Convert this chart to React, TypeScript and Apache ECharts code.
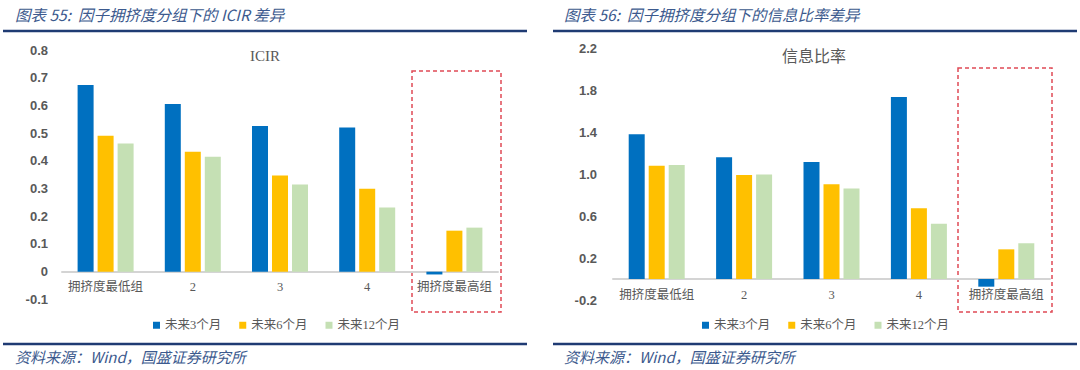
import React, { useEffect, useRef } from "react";
import * as echarts from "echarts";

const categories = ["拥挤度最低组", "2", "3", "4", "拥挤度最高组"];
const seriesNames = ["未来3个月", "未来6个月", "未来12个月"];
const colors = ["#0070C0", "#FFC000", "#C5E0B4"];

const icir3 = [0.674, 0.605, 0.526, 0.52, -0.01];
const icir6 = [0.491, 0.433, 0.347, 0.299, 0.148];
const icir12 = [0.463, 0.415, 0.315, 0.232, 0.159];

const ir3 = [1.38, 1.162, 1.117, 1.735, -0.073];
const ir6 = [1.079, 0.993, 0.904, 0.675, 0.283];
const ir12 = [1.088, 0.996, 0.862, 0.528, 0.341];

const leftHeader = "图表 55:  因子拥挤度分组下的 ICIR 差异";
const rightHeader = "图表 56:  因子拥挤度分组下的信息比率差异";
const sourceText = "资料来源：Wind，国盛证券研究所";
const leftTitle = "ICIR";
const rightTitle = "信息比率";

const SERIF = "'Liberation Serif', 'DejaVu Serif', 'Noto Sans CJK SC', serif";
const SANS = "'Liberation Sans', Arial, sans-serif";
const NAVY = "#1F3B73";
const HEADER_COLOR = "#3C5A8E";

export default function App() {
  const ref = useRef<HTMLDivElement>(null);
  useEffect(() => {
    if (!ref.current) return;
    const chart = echarts.init(ref.current, undefined, { renderer: "svg" });
    const xAxisBase = (gridIndex: number, labelMargin: number) => ({
      type: "category",
      gridIndex,
      data: categories,
      axisLine: { onZero: true, lineStyle: { color: "#D4D4D4", width: 2 } },
      axisTick: { show: false },
      axisLabel: { color: "#595959", fontSize: 12.5, fontFamily: SERIF, margin: labelMargin, interval: 0 },
    });
    const yAxisBase = (gridIndex: number, min: number, max: number, interval: number, margin: number, fmt: (v: number) => string) => ({
      type: "value",
      gridIndex,
      min,
      max,
      interval,
      axisLine: { show: false },
      axisTick: { show: false },
      splitLine: { show: false },
      axisLabel: { color: "#595959", fontSize: 13, fontWeight: "bold", fontFamily: SANS, margin, formatter: fmt },
    });
    const mkSeries = (data: number[], i: number, axisIndex: number) => ({
      type: "bar",
      name: seriesNames[i],
      xAxisIndex: axisIndex,
      yAxisIndex: axisIndex,
      data,
      barWidth: 16,
      barGap: "25%",
      itemStyle: { color: colors[i] },
    });
    const legendBase = (left: number) => ({
      left,
      top: 314,
      data: seriesNames,
      icon: "rect",
      itemWidth: 7,
      itemHeight: 7,
      itemGap: 18,
      textStyle: { color: "#595959", fontSize: 12.5, fontFamily: SERIF },
    });
    const headerText = (x: number, text: string) => ({
      type: "text",
      x,
      y: 14,
      style: { text, fontSize: 15.5, fontStyle: "italic", fontFamily: "'Noto Sans CJK SC', sans-serif", fill: HEADER_COLOR, verticalAlign: "middle" },
    });
    const hline = (x1: number, x2: number, y: number) => ({
      type: "line",
      shape: { x1, y1: y, x2, y2: y },
      style: { stroke: NAVY, lineWidth: 2.5 },
    });
    const sourceLabel = (x: number) => ({
      type: "text",
      x,
      y: 356,
      style: { text: sourceText, fontSize: 15, fontStyle: "italic", fontFamily: "'Noto Sans CJK SC', sans-serif", fill: HEADER_COLOR, verticalAlign: "middle" },
    });
    const dashedBox = (x: number, y: number, w: number, h: number) => ({
      type: "rect",
      shape: { x, y, width: w, height: h },
      style: { fill: "none", stroke: "#E04A55", lineWidth: 1.5, lineDash: [4, 3] },
    });
    const chartTitle = (x: number, text: string, size: number) => ({
      type: "text",
      x,
      y: 56,
      style: { text, fontSize: size, fontFamily: SERIF, fill: "#595959", align: "center", verticalAlign: "middle" },
    });
    chart.setOption({
      animation: false,
      backgroundColor: "#FFFFFF",
      grid: [
        { left: 62, top: 50, width: 436, height: 249.4 },
        { left: 613, top: 48.3, width: 437, height: 251.7 },
      ],
      xAxis: [xAxisBase(0, -18.5), xAxisBase(1, -11.5)],
      yAxis: [
        yAxisBase(0, -0.1, 0.8, 0.1, 14, (v: number) => (Math.abs(v) < 1e-9 ? "0" : v.toFixed(1))),
        yAxisBase(1, -0.2, 2.2, 0.4, 16, (v: number) => v.toFixed(1)),
      ],
      legend: [legendBase(148), legendBase(697)],
      series: [
        mkSeries(icir3, 0, 0),
        mkSeries(icir6, 1, 0),
        mkSeries(icir12, 2, 0),
        mkSeries(ir3, 0, 1),
        mkSeries(ir6, 1, 1),
        mkSeries(ir12, 2, 1),
      ],
      graphic: [
        headerText(15, leftHeader),
        headerText(564, rightHeader),
        hline(3, 527, 31),
        hline(553, 1077, 31),
        hline(3, 527, 344),
        hline(553, 1077, 344),
        sourceLabel(15),
        sourceLabel(564),
        chartTitle(265, leftTitle, 15),
        chartTitle(814, rightTitle, 16),
        dashedBox(412, 71, 89, 241),
        dashedBox(958, 68, 94, 244),
      ],
    });
    return () => chart.dispose();
  }, []);
  return <div ref={ref} style={{ position: "fixed", left: 0, top: 0, width: 1080, height: 370 }} />;
}
